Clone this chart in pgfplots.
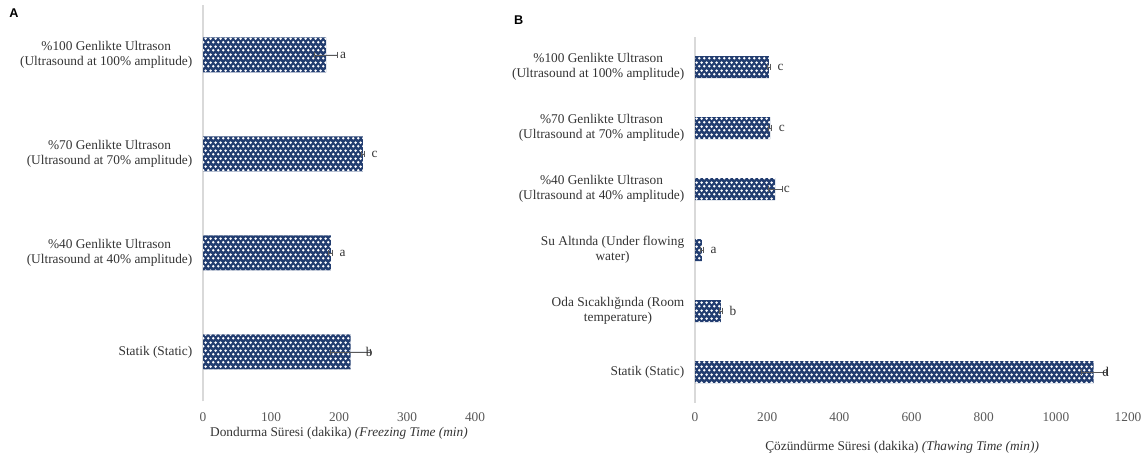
\documentclass[border=0pt]{standalone}
\usepackage{fontspec}
\setmainfont{Liberation Serif}
\newfontfamily\panelfont{Liberation Sans}
\usepackage{pgfplots}
\pgfplotsset{compat=1.18}
\usepackage{pgfplotstable}
\usetikzlibrary{patterns}
\definecolor{barblue}{HTML}{223D70}
\definecolor{axisgray}{HTML}{D9D9D9}
\definecolor{tickgray}{HTML}{595959}
\definecolor{labelgray}{HTML}{333333}
\definecolor{errgray}{HTML}{595959}

\pgfdeclarepatternformonly{bigdots}{\pgfqpoint{0pt}{0pt}}{\pgfqpoint{4pt}{6pt}}{\pgfqpoint{4pt}{6pt}}{
  \pgfpathcircle{\pgfqpoint{1pt}{1.5pt}}{1.15pt}
  \pgfpathcircle{\pgfqpoint{3pt}{4.5pt}}{1.15pt}
  \pgfusepath{fill}
}

\pgfplotstableread{
y x e lbl
0 217 29 \kern5pt{}b
1 188 3 a
2 235 2 c
3 181 17 \kern4pt{}a
}\freezing

\pgfplotstableread{
y x e lbl
0 1105 35 d
1 72 5 b
2 19 3 a
3 222 19 c
4 208 5 c
5 205 5 c
}\thawing

\pgfplotsset{
  common/.style={
    scale only axis, clip=false,
    separate axis lines,
    axis x line*=bottom, axis y line*=left,
    x axis line style={draw=none},
    y axis line style={draw=axisgray, line width=0.9pt, -},
    major tick length=0pt,
    /pgf/number format/assume math mode=true,
    /pgf/number format/1000 sep={},
    xticklabel style={font=\fontsize{10}{12}\selectfont, text=tickgray},
    yticklabel style={font=\fontsize{10}{11}\selectfont, text=labelgray, align=center, xshift=-4.5pt},
    xlabel style={font=\fontsize{10}{12}\selectfont, text=labelgray},
  },
  barstyle/.style={
    xbar, bar shift=0pt, fill=barblue, draw=none,
    postaction={pattern=bigdots, pattern color=white},
    nodes near coords, point meta=explicit symbolic,
    every node near coord/.append style={anchor=west, xshift=3pt,
      font=\fontsize{10}{12}\selectfont, text=labelgray},
    error bars/.cd, x dir=both, x explicit,
    error mark=|,
    error bar style={draw=errgray, line width=0.6pt},
    error mark options={draw=errgray, line width=0.6pt, mark size=2.5pt},
    /pgfplots/.cd,
  },
}

\begin{document}
\begin{tikzpicture}
\useasboundingbox (0,0) rectangle (858.75pt,345pt);

\node[font=\panelfont\bfseries\fontsize{9.5}{11}\selectfont, anchor=center] at (10.5pt,335pt) {A};
\node[font=\panelfont\bfseries\fontsize{9.5}{11}\selectfont, anchor=center] at (389pt,330pt) {B};

\begin{axis}[common,
  at={(152.25pt,43.875pt)}, anchor=south west,
  width=204pt, height=297pt,
  xmin=0, xmax=400, ymin=-0.5, ymax=3.5,
  xtick={0,100,200,300,400},
  ytick={0,1,2,3},
  yticklabels={{Statik (Static)},
    {\%40 Genlikte Ultrason\\(Ultrasound at 40\% amplitude)},
    {\%70 Genlikte Ultrason\\(Ultrasound at 70\% amplitude)},
    {\%100 Genlikte Ultrason\\(Ultrasound at 100\% amplitude)}},
  xticklabel style={yshift=-5pt},
  xlabel={Dondurma Süresi (dakika) \textit{(Freezing Time (min)}},
  x label style={at={(axis description cs:0.5,0)}, anchor=center, yshift=-23.6pt},
]
\addplot[bar width=26.25pt, barstyle] table[x=x, y=y, x error=e, meta=lbl] {\freezing};
\end{axis}

\begin{axis}[common,
  at={(521.25pt,43.125pt)}, anchor=south west,
  width=324.75pt, height=274.5pt,
  xmin=0, xmax=1200, ymin=-0.5, ymax=5.5,
  xtick={0,200,400,600,800,1000,1200},
  ytick={0,1,2,3,4,5},
  yticklabels={{Statik (Static)},
    {Oda Sıcaklığında (Room\\temperature)},
    {Su Altında (Under flowing\\water)},
    {\%40 Genlikte Ultrason\\(Ultrasound at 40\% amplitude)},
    {\%70 Genlikte Ultrason\\(Ultrasound at 70\% amplitude)},
    {\%100 Genlikte Ultrason\\(Ultrasound at 100\% amplitude)}},
  xticklabel style={yshift=-4.2pt},
  xlabel={Çözündürme Süresi (dakika) \textit{(Thawing Time (min))}},
  x label style={at={(axis description cs:0.5,0)}, anchor=center, yshift=-33.4pt, xshift=-7pt},
]
\addplot[bar width=16.5pt, barstyle] table[x=x, y=y, x error=e, meta=lbl] {\thawing};
\end{axis}
\end{tikzpicture}
\end{document}
